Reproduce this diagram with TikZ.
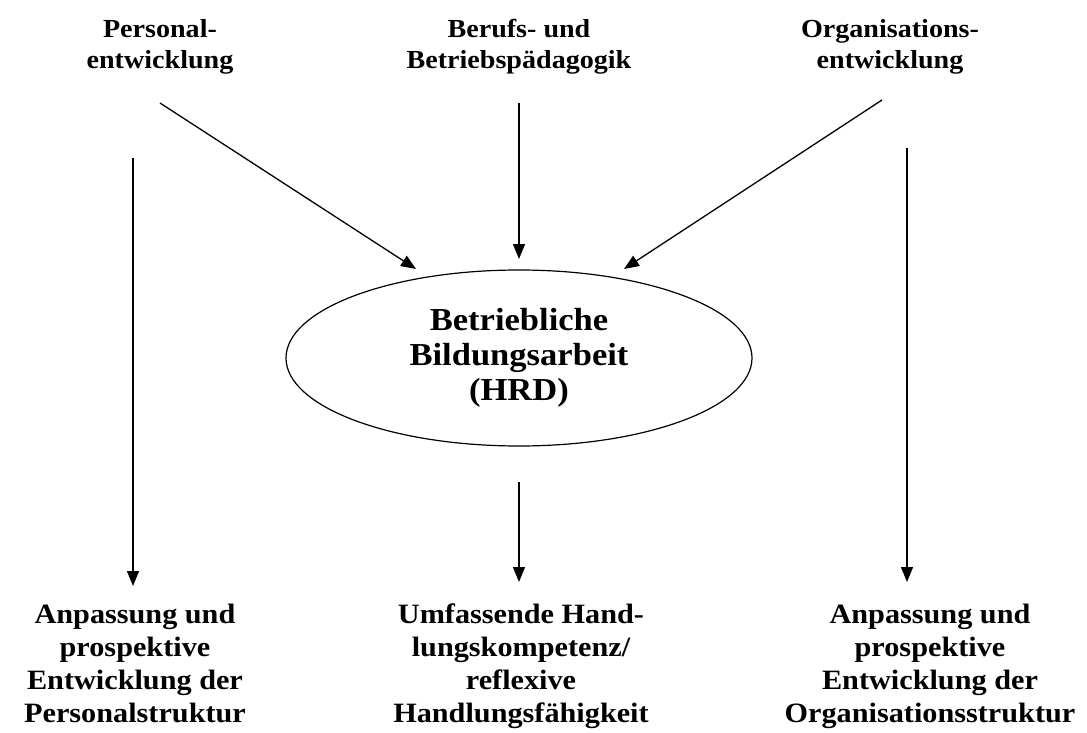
\documentclass[tikz,border=0pt]{standalone}
\usepackage{fontspec}
\setmainfont{Liberation Serif}[FakeStretch=1.08]
\usetikzlibrary{arrows.meta,shapes.geometric}
\begin{document}
\begin{tikzpicture}[x=1pt,y=-1pt,
  toptext/.style={align=center,font=\fontsize{26}{31}\selectfont\bfseries,inner sep=0pt,anchor=north},
  bottext/.style={align=center,font=\fontsize{28}{33}\selectfont\bfseries,inner sep=0pt,anchor=north},
  midtext/.style={ellipse,draw,line width=1.2pt,minimum width=466pt,minimum height=176pt,align=center,inner sep=0pt,font=\fontsize{32}{35}\selectfont\bfseries},
  arr/.style={line width=1.3pt,-{Triangle[length=15pt,width=12pt]}}]
\useasboundingbox (0,0) rectangle (1087,733);
\node[toptext] (pe) at (160,19) {Personal-\\entwicklung};
\node[toptext] (bb) at (519,19) {Berufs- und\\Betriebspädagogik};
\node[toptext] (oe) at (890,19) {Organisations-\\entwicklung};
\node[midtext] (hrd) at (519,358) {Betriebliche\\Bildungsarbeit\\(HRD)};
\node[bottext] (bl) at (135,604) {Anpassung und\\prospektive\\Entwicklung der\\Personalstruktur};
\node[bottext] (bm) at (521,604) {Umfassende Hand-\\lungskompetenz/\\reflexive\\Handlungsfähigkeit};
\node[bottext] (br) at (930,604) {Anpassung und\\prospektive\\Entwicklung der\\Organisationsstruktur};
\coordinate (a1s) at (160,103);
\coordinate (a1e) at (416,269);
\coordinate (a2s) at (519,103);
\coordinate (a2e) at (519,259);
\coordinate (a3s) at (882,100);
\coordinate (a3e) at (624,269);
\coordinate (l1s) at (133,158);
\coordinate (l1e) at (133,586);
\coordinate (r1s) at (907,148);
\coordinate (r1e) at (907,582);
\coordinate (m1s) at (519,482);
\coordinate (m1e) at (519,582);
\draw[arr] (a1s) -- (a1e);
\draw[arr] (a2s) -- (a2e);
\draw[arr] (a3s) -- (a3e);
\draw[arr] (l1s) -- (l1e);
\draw[arr] (r1s) -- (r1e);
\draw[arr] (m1s) -- (m1e);
\end{tikzpicture}
\end{document}
